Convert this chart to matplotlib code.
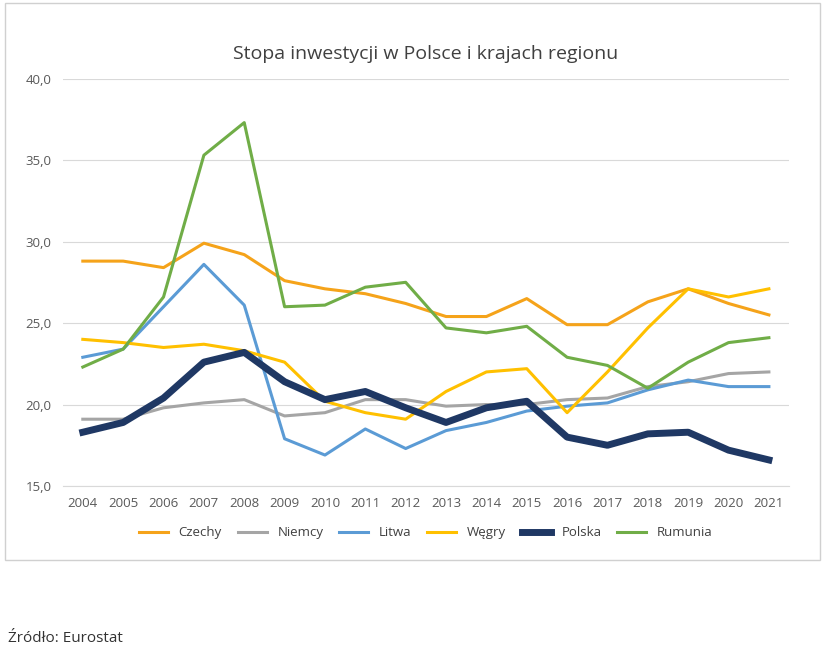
import matplotlib.pyplot as plt
from matplotlib.patches import Rectangle

years = list(range(2004, 2022))
czechy = [28.8, 28.8, 28.4, 29.9, 29.2, 27.6, 27.1, 26.8, 26.2, 25.4, 25.4, 26.5, 24.9, 24.9, 26.3, 27.1, 26.2, 25.5]
niemcy = [19.1, 19.1, 19.8, 20.1, 20.3, 19.3, 19.5, 20.3, 20.3, 19.9, 20.0, 20.0, 20.3, 20.4, 21.1, 21.4, 21.9, 22.0]
litwa = [22.9, 23.4, 26.0, 28.6, 26.1, 17.9, 16.9, 18.5, 17.3, 18.4, 18.9, 19.6, 19.9, 20.1, 20.9, 21.5, 21.1, 21.1]
wegry = [24.0, 23.8, 23.5, 23.7, 23.3, 22.6, 20.2, 19.5, 19.1, 20.8, 22.0, 22.2, 19.5, 22.0, 24.7, 27.1, 26.6, 27.1]
polska = [18.3, 18.9, 20.4, 22.6, 23.2, 21.4, 20.3, 20.8, 19.8, 18.9, 19.8, 20.2, 18.0, 17.5, 18.2, 18.3, 17.2, 16.6]
rumunia = [22.3, 23.4, 26.6, 35.3, 37.3, 26.0, 26.1, 27.2, 27.5, 24.7, 24.4, 24.8, 22.9, 22.4, 21.0, 22.6, 23.8, 24.1]

plt.rcParams['font.family'] = ['Open Sans', 'DejaVu Sans']
fig = plt.figure(figsize=(8.35, 6.55), dpi=100)
fig.patches.append(Rectangle((0.006, 0.145), 0.976, 0.85, transform=fig.transFigure,
                             fill=False, edgecolor='#d0d0d0', lw=1))
ax = fig.add_axes([0.075, 0.258, 0.87, 0.622])

series = [("Czechy", czechy, "#f5a31a", 2.2), ("Niemcy", niemcy, "#a5a5a5", 2.2),
          ("Litwa", litwa, "#5b9bd5", 2.2), ("Węgry", wegry, "#ffc000", 2.2),
          ("Polska", polska, "#1f3864", 5), ("Rumunia", rumunia, "#70ad47", 2.2)]
for name, vals, c, lw in series:
    ax.plot(years, vals, color=c, lw=lw, label=name)

ax.set_ylim(15, 40)
ax.set_xlim(2003.5, 2021.5)
ax.set_yticks([15, 20, 25, 30, 35, 40])
ax.set_yticklabels([f"{v},0" for v in [15, 20, 25, 30, 35, 40]])
ax.set_xticks(years)
ax.grid(axis='y', color='#d9d9d9', lw=0.8)
ax.set_axisbelow(True)
for s in ['top', 'right', 'left']:
    ax.spines[s].set_visible(False)
ax.spines['bottom'].set_color('#d9d9d9')
ax.tick_params(length=0, labelsize=9.5, colors='#595959', pad=8)
ax.set_title("Stopa inwestycji w Polsce i krajach regionu", fontsize=14, color='#404040', pad=14)
ax.legend(loc='upper center', bbox_to_anchor=(0.5, -0.07), ncol=6, frameon=False,
          fontsize=9.5, handlelength=2.2, columnspacing=1.2, labelcolor='#404040')
fig.text(0.01, 0.02, "Źródło: Eurostat", fontsize=11, color='#333333')
fig.savefig("out.png", dpi=100)
